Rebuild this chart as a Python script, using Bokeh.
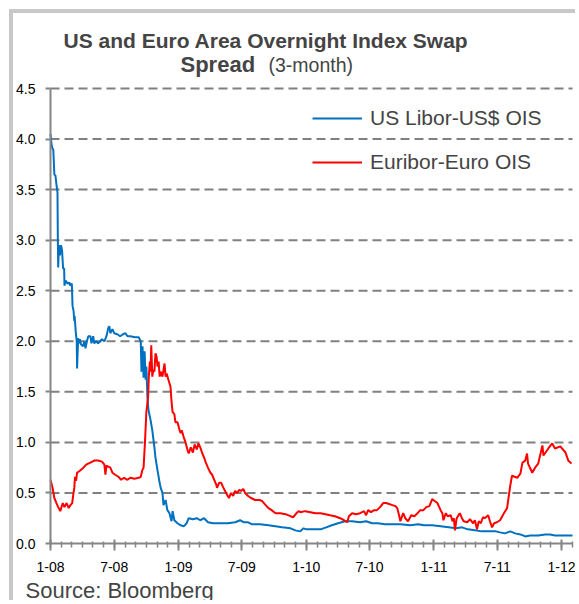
import pandas as pd
from bokeh.plotting import figure
from bokeh.models import (FixedTicker, Label, Legend, LegendItem, Range1d,
                          PrintfTickFormatter)
from bokeh.embed import file_html
from bokeh.resources import INLINE

# ---------------- data ----------------
us_dates = [
    "2008-01-01", "2008-01-04", "2008-01-07", "2008-01-09", "2008-01-12", "2008-01-15",
    "2008-01-18", "2008-01-21", "2008-01-22", "2008-01-23", "2008-01-25", "2008-01-28",
    "2008-01-31", "2008-02-03", "2008-02-06", "2008-02-09", "2008-02-10", "2008-02-13",
    "2008-02-19", "2008-02-24", "2008-02-27", "2008-03-02", "2008-03-04", "2008-03-07",
    "2008-03-09", "2008-03-10", "2008-03-13", "2008-03-16", "2008-03-17", "2008-03-20",
    "2008-03-23", "2008-03-25", "2008-03-28", "2008-04-03", "2008-04-07", "2008-04-10",
    "2008-04-14", "2008-04-18", "2008-04-24", "2008-04-27", "2008-05-02", "2008-05-05",
    "2008-05-11", "2008-05-16", "2008-05-22", "2008-05-27", "2008-06-03", "2008-06-09",
    "2008-06-14", "2008-06-17", "2008-06-20", "2008-06-26", "2008-07-01", "2008-07-10",
    "2008-07-18", "2008-07-27", "2008-08-02", "2008-08-08", "2008-08-16", "2008-08-30",
    "2008-09-09", "2008-09-15", "2008-09-17", "2008-09-20", "2008-09-23", "2008-09-26",
    "2008-09-29", "2008-10-01", "2008-10-04", "2008-10-07", "2008-10-13", "2008-10-18",
    "2008-10-24", "2008-10-27", "2008-11-02", "2008-11-08", "2008-11-11", "2008-11-16",
    "2008-11-19", "2008-11-25", "2008-11-30", "2008-12-06", "2008-12-12", "2008-12-15",
    "2008-12-20", "2008-12-29", "2009-01-07", "2009-01-16", "2009-01-24", "2009-01-30",
    "2009-02-11", "2009-02-22", "2009-03-04", "2009-03-15", "2009-03-26", "2009-04-10",
    "2009-04-30", "2009-05-22", "2009-06-12", "2009-06-26", "2009-07-07", "2009-07-19",
    "2009-07-30", "2009-08-22", "2009-09-15", "2009-10-05", "2009-10-24", "2009-11-17",
    "2009-12-01", "2009-12-15", "2009-12-24", "2010-01-02", "2010-01-19", "2010-02-11",
    "2010-02-27", "2010-03-15", "2010-04-02", "2010-04-22", "2010-05-12", "2010-06-04",
    "2010-06-21", "2010-07-08", "2010-07-25", "2010-08-14", "2010-09-04", "2010-09-27",
    "2010-10-25", "2010-11-17", "2010-12-04", "2010-12-27", "2011-01-20", "2011-02-12",
    "2011-03-05", "2011-03-22", "2011-04-08", "2011-04-28", "2011-05-18", "2011-06-10",
    "2011-06-27", "2011-07-09", "2011-07-23", "2011-08-07", "2011-08-21", "2011-09-05",
    "2011-09-19", "2011-10-03", "2011-10-26", "2011-11-15", "2011-11-29", "2011-12-13",
    "2012-01-03", "2012-02-01",
]
us_values = [
    4.05, 3.95, 3.90, 3.90, 3.65, 3.64,
    3.55, 3.47, 3.00, 2.73, 2.95, 2.85,
    2.95, 2.90, 2.72, 2.72, 2.55, 2.60,
    2.57, 2.58, 2.55, 2.57, 2.35, 2.30,
    2.20, 2.25, 2.10, 2.00, 1.73, 2.03,
    1.98, 2.02, 1.97, 1.95, 2.00, 1.93,
    2.00, 2.05, 2.05, 1.98, 2.05, 1.98,
    2.00, 1.98, 2.00, 2.02, 2.00, 2.05,
    2.13, 2.15, 2.08, 2.12, 2.08, 2.07,
    2.05, 2.07, 2.08, 2.05, 2.05, 2.04,
    2.04, 2.00, 1.70, 1.95, 1.64, 1.90,
    1.62, 1.75, 1.45, 1.32, 1.22, 1.12,
    0.95, 0.85, 0.72, 0.60, 0.55, 0.50,
    0.38, 0.43, 0.33, 0.30, 0.22, 0.32,
    0.23, 0.20, 0.18, 0.17, 0.20, 0.25,
    0.24, 0.25, 0.23, 0.25, 0.21, 0.20,
    0.20, 0.20, 0.21, 0.23, 0.21, 0.21,
    0.19, 0.19, 0.18, 0.17, 0.16, 0.15,
    0.13, 0.12, 0.15, 0.14, 0.14, 0.14,
    0.16, 0.18, 0.20, 0.22, 0.22, 0.21,
    0.22, 0.20, 0.20, 0.19, 0.19, 0.19,
    0.18, 0.19, 0.18, 0.18, 0.17, 0.16,
    0.15, 0.16, 0.14, 0.13, 0.12, 0.12,
    0.12, 0.11, 0.10, 0.12, 0.10, 0.09,
    0.07, 0.08, 0.08, 0.09, 0.09, 0.08,
    0.08, 0.08,
]

eu_dates = [
    "2008-01-01", "2008-01-07", "2008-01-12", "2008-01-18", "2008-01-23", "2008-01-29",
    "2008-02-05", "2008-02-10", "2008-02-16", "2008-02-22", "2008-02-27", "2008-03-03",
    "2008-03-06", "2008-03-09", "2008-03-11", "2008-03-14", "2008-03-17", "2008-03-25",
    "2008-04-04", "2008-04-12", "2008-04-24", "2008-05-05", "2008-05-16", "2008-05-27",
    "2008-06-03", "2008-06-06", "2008-06-09", "2008-06-14", "2008-06-20", "2008-06-26",
    "2008-07-04", "2008-07-13", "2008-07-21", "2008-07-29", "2008-08-08", "2008-08-16",
    "2008-08-28", "2008-09-09", "2008-09-15", "2008-09-19", "2008-09-23", "2008-09-27",
    "2008-10-01", "2008-10-06", "2008-10-08", "2008-10-11", "2008-10-13", "2008-10-15",
    "2008-10-18", "2008-10-21", "2008-10-24", "2008-10-27", "2008-10-30", "2008-11-02",
    "2008-11-05", "2008-11-08", "2008-11-11", "2008-11-16", "2008-11-19", "2008-11-22",
    "2008-11-25", "2008-11-28", "2008-12-03", "2008-12-09", "2008-12-12", "2008-12-15",
    "2008-12-20", "2008-12-23", "2008-12-29", "2009-01-04", "2009-01-07", "2009-01-10",
    "2009-01-16", "2009-01-21", "2009-01-27", "2009-01-30", "2009-02-05", "2009-02-11",
    "2009-02-16", "2009-02-22", "2009-02-27", "2009-03-04", "2009-03-09", "2009-03-15",
    "2009-03-20", "2009-03-26", "2009-04-02", "2009-04-07", "2009-04-13", "2009-04-19",
    "2009-04-21", "2009-04-27", "2009-05-03", "2009-05-08", "2009-05-14", "2009-05-20",
    "2009-05-25", "2009-05-31", "2009-06-06", "2009-06-12", "2009-06-18", "2009-06-23",
    "2009-06-29", "2009-07-05", "2009-07-10", "2009-07-19", "2009-07-27", "2009-08-08",
    "2009-08-20", "2009-08-28", "2009-09-07", "2009-09-15", "2009-09-24", "2009-10-05",
    "2009-10-19", "2009-11-03", "2009-11-17", "2009-11-25", "2009-12-04", "2009-12-10",
    "2009-12-15", "2009-12-29", "2010-01-13", "2010-01-27", "2010-02-11", "2010-02-25",
    "2010-03-10", "2010-03-24", "2010-04-08", "2010-04-19", "2010-04-28", "2010-05-03",
    "2010-05-12", "2010-05-23", "2010-06-04", "2010-06-15", "2010-06-21", "2010-06-27",
    "2010-07-05", "2010-07-14", "2010-07-22", "2010-07-31", "2010-08-09", "2010-08-17",
    "2010-08-26", "2010-09-04", "2010-09-13", "2010-09-18", "2010-09-24", "2010-09-27",
    "2010-10-05", "2010-10-11", "2010-10-19", "2010-10-28", "2010-11-06", "2010-11-15",
    "2010-11-23", "2010-12-02", "2010-12-10", "2010-12-19", "2010-12-27", "2011-01-03",
    "2011-01-11", "2011-01-20", "2011-01-25", "2011-01-28", "2011-02-04", "2011-02-09",
    "2011-02-18", "2011-02-23", "2011-02-27", "2011-03-02", "2011-03-07", "2011-03-16",
    "2011-03-22", "2011-03-27", "2011-04-06", "2011-04-14", "2011-04-23", "2011-04-28",
    "2011-05-04", "2011-05-09", "2011-05-15", "2011-05-21", "2011-05-26", "2011-06-05",
    "2011-06-10", "2011-06-16", "2011-06-22", "2011-06-30", "2011-07-09", "2011-07-20",
    "2011-07-29", "2011-08-07", "2011-08-12", "2011-08-27", "2011-09-05", "2011-09-11",
    "2011-09-19", "2011-09-24", "2011-09-27", "2011-10-09", "2011-10-17", "2011-10-26",
    "2011-11-07", "2011-11-10", "2011-11-24", "2011-12-05", "2011-12-13", "2011-12-28",
    "2012-01-12", "2012-01-20", "2012-01-29",
]
eu_values = [
    0.63, 0.55, 0.45, 0.40, 0.36, 0.32,
    0.40, 0.36, 0.40, 0.35, 0.38, 0.40,
    0.48, 0.55, 0.66, 0.62, 0.70, 0.72,
    0.75, 0.78, 0.80, 0.82, 0.82, 0.81,
    0.78, 0.68, 0.77, 0.76, 0.75, 0.70,
    0.68, 0.66, 0.63, 0.65, 0.63, 0.65,
    0.64, 0.65, 0.66, 0.72, 0.75, 1.00,
    1.30, 1.45, 1.65, 1.80, 1.70, 1.96,
    1.65, 1.72, 1.70, 1.88, 1.85, 1.75,
    1.80, 1.65, 1.70, 1.65, 1.72, 1.78,
    1.65, 1.68, 1.62, 1.55, 1.40, 1.30,
    1.28, 1.20, 1.20, 1.12, 1.09, 1.12,
    1.05, 1.00, 0.92, 0.89, 0.95, 0.90,
    0.98, 0.93, 0.99, 0.95, 0.90, 0.85,
    0.80, 0.75, 0.70, 0.68, 0.63, 0.58,
    0.55, 0.60, 0.60, 0.56, 0.52, 0.48,
    0.45, 0.50, 0.47, 0.52, 0.50, 0.53,
    0.52, 0.54, 0.50, 0.47, 0.45, 0.43,
    0.43, 0.42, 0.38, 0.35, 0.33, 0.30,
    0.30, 0.29, 0.27, 0.26, 0.30, 0.32,
    0.31, 0.32, 0.31, 0.30, 0.30, 0.29,
    0.28, 0.27, 0.25, 0.23, 0.21, 0.27,
    0.30, 0.29, 0.30, 0.32, 0.28, 0.33,
    0.31, 0.33, 0.33, 0.36, 0.40, 0.40,
    0.39, 0.38, 0.37, 0.35, 0.27, 0.22,
    0.30, 0.25, 0.22, 0.28, 0.27, 0.30,
    0.33, 0.33, 0.36, 0.37, 0.44, 0.42,
    0.40, 0.33, 0.30, 0.23, 0.30, 0.27,
    0.28, 0.22, 0.25, 0.13, 0.25, 0.30,
    0.25, 0.22, 0.21, 0.24, 0.20, 0.23,
    0.14, 0.22, 0.20, 0.26, 0.25, 0.28,
    0.22, 0.16, 0.20, 0.21, 0.23, 0.30,
    0.35, 0.57, 0.67, 0.65, 0.69, 0.80,
    0.82, 0.89, 0.79, 0.70, 0.75, 0.79,
    0.97, 0.87, 0.94, 0.99, 0.94, 0.96,
    0.90, 0.82, 0.79,
]

y_ticks = [0.0, 0.5, 1.0, 1.5, 2.0, 2.5, 3.0, 3.5, 4.0, 4.5]
x_tick_dates = ["2008-01-01", "2008-07-01", "2009-01-01", "2009-07-01", "2010-01-01",
                "2010-07-01", "2011-01-01", "2011-07-01", "2012-01-01"]
x_tick_labels = ["1-08", "7-08", "1-09", "7-09", "1-10", "7-10", "1-11", "7-11", "1-12"]
x_start, x_end = "2008-01-01", "2012-02-01"
y_start, y_end = 0.0, 4.5

series_names = ["US Libor-US$ OIS", "Euribor-Euro OIS"]
title_line1 = "US and Euro Area Overnight Index Swap"
title_line2_bold = "Spread"
title_line2_rest = "(3-month)"
source_text = "Source: Bloomberg"

FONT = "Liberation Sans"
GREY = "#868686"

# ---------------- layout (pixels inside the canvas) ----------------
W, H = 566, 591                 # canvas
PL, PR, PT, PB = 37, 7, 75, 61  # plot-area margins inside the canvas
FW, FH = W - PL - PR, H - PT - PB


def ms(d):
    return int(pd.Timestamp(d).value // 10**6)


t0, t1 = ms(x_start), ms(x_end)
xpp = (t1 - t0) / FW
ypp = (y_end - y_start) / FH

p = figure(width=W, height=H, output_backend="svg", toolbar_location=None,
           x_axis_type="datetime",
           x_range=Range1d(t0 - PL * xpp, t1 + PR * xpp),
           y_range=Range1d(y_start - PB * ypp, y_end + PT * ypp),
           min_border=0)
p.styles = {"border-top": "4px solid #c8c8c8", "border-left": "4px solid #c8c8c8",
            "margin-left": "9px", "margin-top": "9px"}
p.outline_line_color = None
p.grid.visible = False

# x axis, pinned at y = 0
minor = [ms(d) for d in pd.date_range(x_start, x_end, freq="MS")]
xa = p.xaxis[0]
xa.fixed_location = y_start
xa.bounds = (t0, t1)
xa.ticker = FixedTicker(ticks=[ms(d) for d in x_tick_dates], minor_ticks=minor)
xa.major_label_overrides = {ms(d): lab for d, lab in zip(x_tick_dates, x_tick_labels)}
xa.axis_line_color = GREY
xa.axis_line_width = 2
xa.major_tick_line_color = GREY
xa.major_tick_line_width = 2
xa.major_tick_in = 4
xa.major_tick_out = 7
xa.minor_tick_line_color = GREY
xa.minor_tick_line_width = 1.5
xa.minor_tick_in = 2
xa.minor_tick_out = 4
xa.major_label_text_font = FONT
xa.major_label_text_font_size = "14px"
xa.major_label_text_color = "black"
xa.major_label_standoff = 11

# y axis, pinned at the first date
ya = p.yaxis[0]
ya.fixed_location = t0
ya.bounds = (y_start, y_end)
ya.ticker = FixedTicker(ticks=y_ticks)
ya.formatter = PrintfTickFormatter(format="%.1f")
ya.axis_line_color = GREY
ya.axis_line_width = 2
ya.major_tick_line_color = GREY
ya.major_tick_line_width = 2
ya.major_tick_in = 0
ya.major_tick_out = 5
ya.minor_tick_line_color = None
ya.major_label_text_font = FONT
ya.major_label_text_font_size = "14px"
ya.major_label_text_color = "black"
ya.major_label_standoff = 10

# dashed horizontal gridlines across the plot area
gy = y_ticks[1:]
p.segment(x0=[t0] * len(gy), y0=gy, x1=[t1] * len(gy), y1=gy,
          line_color="#808080", line_width=2, line_dash="9 5")

r_us = p.line(pd.to_datetime(us_dates), us_values, line_color="#0070C0", line_width=2)
r_eu = p.line(pd.to_datetime(eu_dates), eu_values, line_color="#FF0000", line_width=2)

legend = Legend(items=[LegendItem(label=series_names[0], renderers=[r_us]),
                       LegendItem(label=series_names[1], renderers=[r_eu])],
                location=(262 + PL, 369.5 + PB), padding=0, margin=0, spacing=20,
                glyph_width=50, glyph_height=20, label_height=20, label_standoff=8,
                label_text_font=FONT, label_text_font_size="21px",
                border_line_color=None, background_fill_alpha=0)
p.add_layout(legend)

# texts (screen px from the canvas bottom-left)
p.add_layout(Label(x=252.5, y=564, x_units="screen", y_units="screen", text=title_line1,
                   text_align="center", text_baseline="alphabetic", text_font=FONT,
                   text_font_size="21px", text_font_style="bold"))
p.add_layout(Label(x=167, y=540, x_units="screen", y_units="screen", text=title_line2_bold,
                   text_align="left", text_baseline="alphabetic", text_font=FONT,
                   text_font_size="22px", text_font_style="bold"))
p.add_layout(Label(x=255, y=540, x_units="screen", y_units="screen", text=title_line2_rest,
                   text_align="left", text_baseline="alphabetic", text_font=FONT,
                   text_font_size="19.5px"))
p.add_layout(Label(x=12, y=14, x_units="screen", y_units="screen", text=source_text,
                   text_align="left", text_baseline="alphabetic", text_font=FONT,
                   text_font_size="22px"))

open("out.html", "w").write(file_html(p, INLINE))
